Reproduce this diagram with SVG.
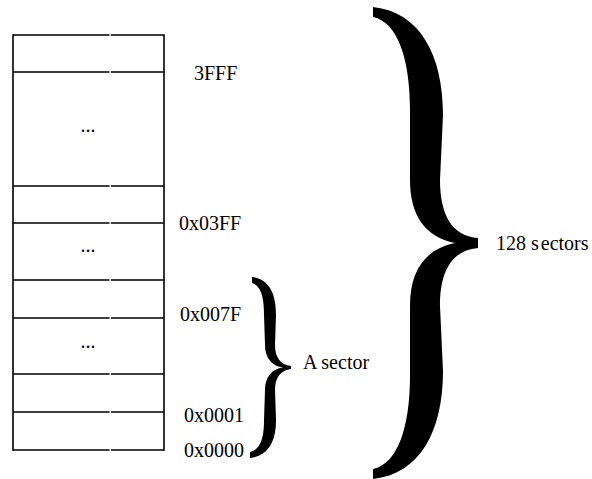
<svg xmlns="http://www.w3.org/2000/svg" width="592" height="479" viewBox="0 0 592 479">
<style>
.ln{stroke:#000;stroke-width:1.6;fill:none}
.t{font-family:"Liberation Serif","Times New Roman",serif;font-size:20px;fill:#000}
.dots{font-family:"Liberation Serif","Times New Roman",serif;font-size:20px;fill:#000;text-anchor:middle}
.brace{fill:#000;stroke:none}
</style>
<rect width="592" height="479" fill="#fff"/>
<g id="memory">
  <line class="ln" x1="13" y1="34.2" x2="13" y2="450.8"/>
  <line class="ln" x1="164" y1="34.2" x2="164" y2="450.8"/>
  <g id="row1"><path class="ln" d="M13,35H109.5M110.8,35H164"/></g>
  <g id="row2"><path class="ln" d="M13,72H109.5M110.8,72H164"/><text class="dots" x="88" y="132">...</text></g>
  <g id="row3"><path class="ln" d="M13,186H109.5M110.8,186H164"/></g>
  <g id="row4"><path class="ln" d="M13,223H109.5M110.8,223H164"/><text class="dots" x="88" y="252">...</text></g>
  <g id="row5"><path class="ln" d="M13,280H109.5M110.8,280H164"/></g>
  <g id="row6"><path class="ln" d="M13,318H109.5M110.8,318H164"/><text class="dots" x="88" y="348">...</text></g>
  <g id="row7"><path class="ln" d="M13,374H109.5M110.8,374H164"/></g>
  <g id="row8"><path class="ln" d="M13,412H109.5M110.8,412H164"/><path class="ln" d="M13,450H109.5M110.8,450H164"/></g>
</g>
<g id="labels">
  <text class="t" x="194" y="80">3FFF</text>
  <text class="t" x="179" y="230">0x03FF</text>
  <text class="t" x="180" y="321">0x007F</text>
  <text class="t" x="184" y="422">0x0001</text>
  <text class="t" x="184" y="457">0x0000</text>
</g>
<g id="connectors">
  <path id="small-brace" class="brace" d="M252,277 C270,279 276,295 276,315 L275,345 C275,358 281,365 291,366 L291,369 C281,370 275,377 275,390 L276,420 C276,442 268,456 250,458 L250,452 C262,449 264,435 264,420 L265,390 C265,377 272,369 283,367.5 C272,366 265,358 265,345 L264,315 C264,300 262,286 252,283 Z"/>
  <path id="big-brace" class="brace" d="M373,7 C420,12 443,55 443,115 L440,180 C440,215 452,236 478,238 L478,248 C452,250 440,271 440,306 L443,371 C443,431 420,474 373,479 L373,469 C398,464 410,426 410,376 L410,306 C410,271 425,249 455,243 C425,237 410,215 410,180 L410,110 C410,60 398,22 373,17 Z"/>
</g>
<g id="brace-labels">
  <text class="t" x="303" y="369">A sector</text>
  <text class="t" x="496" y="250">128 s<tspan dx="2">ectors</tspan></text>
</g>
</svg>
